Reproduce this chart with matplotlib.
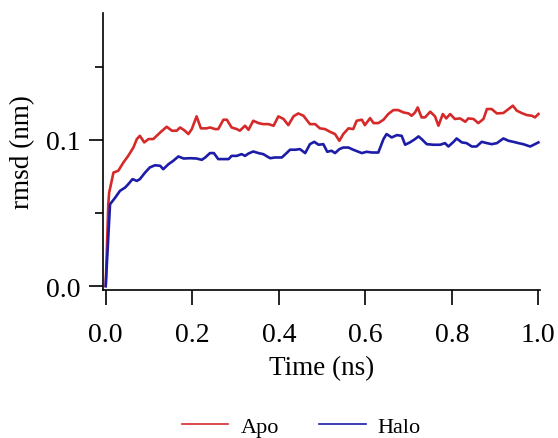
import numpy as np
import matplotlib
matplotlib.use("Agg")
import matplotlib.pyplot as plt
from matplotlib.lines import Line2D
from matplotlib.ticker import MultipleLocator

# ---------------------------------------------------------
# DATA
# ---------------------------------------------------------
apo_t = [0.000, 0.006, 0.008, 0.018, 0.029, 0.041, 0.052, 0.064, 0.072, 0.079, 0.089,
         0.099, 0.110, 0.126, 0.141, 0.153, 0.164, 0.172, 0.183, 0.191, 0.199, 0.210,
         0.220, 0.233, 0.241, 0.253, 0.260, 0.272, 0.280, 0.291, 0.303, 0.310, 0.322,
         0.330, 0.341, 0.353, 0.364, 0.376, 0.388, 0.399, 0.411, 0.422, 0.434, 0.445,
         0.457, 0.472, 0.484, 0.495, 0.507, 0.518, 0.530, 0.540, 0.549, 0.561, 0.572,
         0.580, 0.592, 0.599, 0.611, 0.619, 0.630, 0.642, 0.653, 0.665, 0.676, 0.688,
         0.700, 0.707, 0.715, 0.721, 0.730, 0.738, 0.750, 0.761, 0.769, 0.779, 0.787,
         0.796, 0.807, 0.819, 0.831, 0.838, 0.850, 0.861, 0.873, 0.881, 0.892, 0.904,
         0.919, 0.931, 0.941, 0.950, 0.961, 0.973, 0.985, 0.992, 1.000]
apo_rmsd = [0.0000, 0.0560, 0.0639, 0.0776, 0.0788, 0.0845, 0.0890, 0.0947, 0.1005, 0.1027, 0.0982,
            0.1005, 0.1005, 0.1050, 0.1089, 0.1062, 0.1062, 0.1084, 0.1062, 0.1039, 0.1073, 0.1160,
            0.1078, 0.1078, 0.1084, 0.1073, 0.1073, 0.1137, 0.1137, 0.1084, 0.1073, 0.1062, 0.1096,
            0.1068, 0.1130, 0.1114, 0.1107, 0.1107, 0.1096, 0.1160, 0.1142, 0.1100, 0.1160, 0.1180,
            0.1164, 0.1107, 0.1107, 0.1078, 0.1073, 0.1055, 0.1039, 0.0993, 0.1039, 0.1078, 0.1073,
            0.1130, 0.1137, 0.1100, 0.1148, 0.1114, 0.1114, 0.1137, 0.1176, 0.1203, 0.1203, 0.1187,
            0.1180, 0.1164, 0.1187, 0.1221, 0.1153, 0.1153, 0.1192, 0.1160, 0.1096, 0.1176, 0.1146,
            0.1176, 0.1142, 0.1146, 0.1123, 0.1146, 0.1142, 0.1114, 0.1142, 0.1210, 0.1210, 0.1180,
            0.1183, 0.1210, 0.1233, 0.1199, 0.1183, 0.1169, 0.1164, 0.1153, 0.1176]

halo_t = [0.000, 0.010, 0.022, 0.033, 0.045, 0.052, 0.062, 0.072, 0.079, 0.091, 0.102,
          0.114, 0.126, 0.133, 0.145, 0.156, 0.168, 0.180, 0.195, 0.210, 0.222, 0.230,
          0.241, 0.250, 0.260, 0.272, 0.284, 0.291, 0.303, 0.314, 0.322, 0.330, 0.341,
          0.353, 0.364, 0.380, 0.391, 0.407, 0.418, 0.426, 0.438, 0.449, 0.461, 0.472,
          0.482, 0.492, 0.503, 0.512, 0.522, 0.530, 0.540, 0.549, 0.561, 0.572, 0.584,
          0.592, 0.603, 0.615, 0.630, 0.642, 0.649, 0.661, 0.673, 0.684, 0.692, 0.703,
          0.715, 0.723, 0.730, 0.742, 0.757, 0.773, 0.784, 0.792, 0.804, 0.811, 0.823,
          0.834, 0.846, 0.857, 0.869, 0.881, 0.892, 0.904, 0.919, 0.931, 0.942, 0.954,
          0.965, 0.981, 0.992, 1.000]
halo_rmsd = [0.0000, 0.0559, 0.0605, 0.0651, 0.0674, 0.0696, 0.0731, 0.0719, 0.0731, 0.0776, 0.0811,
             0.0826, 0.0822, 0.0799, 0.0833, 0.0856, 0.0886, 0.0872, 0.0874, 0.0872, 0.0863, 0.0879,
             0.0909, 0.0909, 0.0868, 0.0868, 0.0868, 0.0890, 0.0890, 0.0902, 0.0890, 0.0906, 0.0920,
             0.0909, 0.0902, 0.0874, 0.0879, 0.0879, 0.0909, 0.0932, 0.0932, 0.0936, 0.0909, 0.0970,
             0.0986, 0.0966, 0.0970, 0.0918, 0.0925, 0.0909, 0.0936, 0.0947, 0.0947, 0.0932, 0.0918,
             0.0909, 0.0918, 0.0913, 0.0913, 0.1005, 0.1039, 0.1016, 0.1032, 0.1027, 0.0966, 0.0982,
             0.1005, 0.1023, 0.1005, 0.0970, 0.0966, 0.0966, 0.0977, 0.0954, 0.0986, 0.1009, 0.0982,
             0.0977, 0.0954, 0.0954, 0.0986, 0.0977, 0.0970, 0.0977, 0.1009, 0.0993, 0.0986, 0.0977,
             0.0970, 0.0954, 0.0970, 0.0982]

series_names = ["Apo", "Halo"]
series_colors = ["#d62a2a", "#1c1ca8"]

# ---------------------------------------------------------
# PLOT
# ---------------------------------------------------------
plt.rcParams['font.family'] = ['Liberation Serif', 'DejaVu Serif']

fig = plt.figure(figsize=(5.58, 4.39), dpi=100)
ax = fig.add_axes([0.184, 0.337, 0.784, 0.631])

ax.plot(apo_t, apo_rmsd, color=series_colors[0], lw=1.9, zorder=3)
ax.plot(halo_t, halo_rmsd, color=series_colors[1], lw=1.9, zorder=3)

ax.set_xlim(-0.007, 1.004)
ax.set_ylim(-0.0027, 0.1866)

for s in ['top', 'right']:
    ax.spines[s].set_visible(False)
for s in ['left', 'bottom']:
    ax.spines[s].set_linewidth(1.2)

ax.xaxis.set_major_locator(MultipleLocator(0.2))
ax.yaxis.set_major_locator(MultipleLocator(0.1))
ax.yaxis.set_minor_locator(MultipleLocator(0.05))
ax.xaxis.set_major_formatter(plt.FormatStrFormatter('%.1f'))
ax.yaxis.set_major_formatter(plt.FormatStrFormatter('%.1f'))

ax.tick_params(axis='x', which='major', direction='out', length=11, width=1.2,
               labelsize=20, pad=12)
ax.tick_params(axis='y', which='major', direction='out', length=10, width=1.2,
               labelsize=20, pad=6)
ax.tick_params(axis='y', which='minor', direction='out', length=6, width=1.2)

ax.set_xlabel("Time (ns)", fontsize=19.5, labelpad=6)
ax.set_ylabel("rmsd (nm)", fontsize=19.5, labelpad=8)

handles = [Line2D([], [], color=c, lw=1.2) for c in series_colors]
fig.legend(handles, series_names, loc='center', bbox_to_anchor=(0.54, 0.026),
           ncol=2, frameon=False, fontsize=16, handlelength=2.1,
           handletextpad=0.55, columnspacing=1.8, borderaxespad=0, borderpad=0)

fig.savefig("out.png", dpi=100)
